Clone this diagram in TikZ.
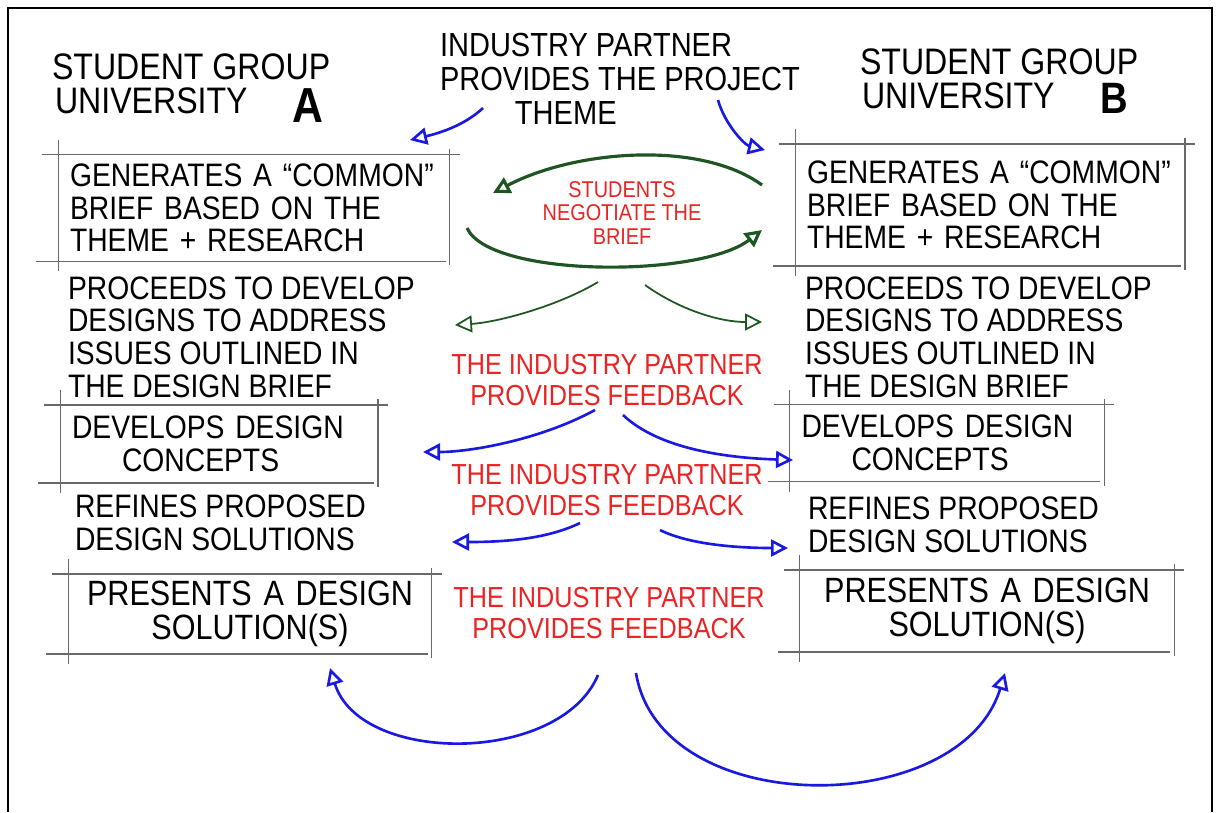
\documentclass[tikz,border=0pt]{standalone}
\usepackage{fontspec}
\newfontfamily\handfont[FakeStretch=0.87]{Liberation Sans}
\usetikzlibrary{arrows.meta, calc}

\definecolor{penblue}{RGB}{25,25,225}
\definecolor{pengreen}{RGB}{30,85,35}
\definecolor{penred}{RGB}{235,35,35}
\definecolor{boxgray}{RGB}{105,105,105}

% hand drawn box: four lines that run past the corners
\newcommand\sketchbox[1]{%
  \draw [sline] ($(#1.north west)+(-16,0)$) -- ($(#1.north east)+(10,0)$);
  \draw [sline] ($(#1.south west)+(-22,0)$) -- ($(#1.south east)+(-4,0)$);
  \draw [sline] ($(#1.north west)+(0,-15)$) -- ($(#1.south west)+(0,10)$);
  \draw [sline] ($(#1.north east)+(0,-6)$) -- ($(#1.south east)+(0,4)$);
}

\begin{document}
\begin{tikzpicture}[x=0.02cm, y=-0.02cm]
\tikzset{ >={Triangle[open, length=0.34cm, width=0.34cm]}, inner sep=0pt, outer sep=0pt,
  hand/.style={font=\handfont\fontsize{18.5}{18.6}\selectfont, align=left},
  title/.style={font=\handfont\fontsize{21}{20}\selectfont, align=left},
  big/.style={font=\handfont\fontsize{28}{28}\selectfont\bfseries},
  note/.style={font=\handfont\fontsize{16.5}{17.2}\selectfont, text=penred, align=center},
  sbox/.style={hand, inner xsep=0.24cm},
  sline/.style={boxgray, line width=0.6pt},
  bluepen/.style={penblue, line width=1.5pt},
  greenpen/.style={pengreen, line width=1pt},
}

\useasboundingbox (0,0) rectangle (1219,812);
\draw [line width=1.6pt] (8,812) -- (8,8) -- (1212,8) -- (1212,812);

%% headings
\node [title, anchor=west] (stA1) at (52,67) {STUDENT GROUP};
\node [title, anchor=west] (stA2) at (55,101) {UNIVERSITY};
\node [big] (letA) at (308,106) {A};
\node [title, anchor=west] (stB1) at (860,62) {STUDENT GROUP};
\node [title, anchor=west] (stB2) at (862,96) {UNIVERSITY};
\node [big, font=\handfont\fontsize{25}{25}\selectfont\bfseries] (letB) at (1114,98) {B};
\node [title, font=\handfont\fontsize{19}{19.5}\selectfont, anchor=north west] (ip) at (440,33)
  {INDUSTRY PARTNER\\PROVIDES THE PROJECT\\\hspace*{1.5cm}THEME};

%% group A
\node [sbox, text width=7.36cm, minimum height=2.14cm] (genA) at (254,208)
  {GENERATES A “COMMON”\\BRIEF BASED ON THE\\THEME + RESEARCH};
\node [hand, anchor=west] (devA) at (68,337)
  {PROCEEDS TO DEVELOP\\DESIGNS TO ADDRESS\\ISSUES OUTLINED IN\\THE DESIGN BRIEF};
\node [sbox, text width=5.88cm, minimum height=1.56cm] (conA) at (219,444)
  {DEVELOPS DESIGN\\\hspace*{1cm}CONCEPTS};
\node [hand, anchor=west] (refA) at (75,523) {REFINES PROPOSED\\DESIGN SOLUTIONS};
\node [sbox, text width=6.8cm, minimum height=1.6cm, align=center,
  font=\handfont\fontsize{20}{19}\selectfont] (solA) at (250,614)
  {PRESENTS A DESIGN\\SOLUTION(S)};

%% group B
\node [sbox, text width=7.32cm, minimum height=2.44cm] (genB) at (990,205)
  {GENERATES A “COMMON”\\BRIEF BASED ON THE\\THEME + RESEARCH};
\node [hand, anchor=west] (devB) at (805,337)
  {PROCEEDS TO DEVELOP\\DESIGNS TO ADDRESS\\ISSUES OUTLINED IN\\THE DESIGN BRIEF};
\node [sbox, text width=5.82cm, minimum height=1.54cm] (conB) at (947,443)
  {DEVELOPS DESIGN\\\hspace*{1cm}CONCEPTS};
\node [hand, anchor=west] (refB) at (808,525) {REFINES PROPOSED\\DESIGN SOLUTIONS};
\node [sbox, text width=7.02cm, minimum height=1.64cm, align=center,
  font=\handfont\fontsize{20}{19}\selectfont] (solB) at (987,611)
  {PRESENTS A DESIGN\\SOLUTION(S)};

\sketchbox{genA} \sketchbox{conA} \sketchbox{solA}
\sketchbox{genB} \sketchbox{conB} \sketchbox{solB}

%% middle notes
\node [note, font=\handfont\fontsize{13}{13.6}\selectfont] (neg) at (622,213)
  {STUDENTS\\NEGOTIATE THE\\BRIEF};
\node [note] (fbA) at (607,380) {THE INDUSTRY PARTNER\\PROVIDES FEEDBACK};
\node [note] (fbB) at (607,490) {THE INDUSTRY PARTNER\\PROVIDES FEEDBACK};
\node [note] (fbC) at (609,613) {THE INDUSTRY PARTNER\\PROVIDES FEEDBACK};

%% arrow ends
\coordinate (themeL) at (483,108);  \coordinate (inA)  at (410,140);
\coordinate (themeR) at (718,100);  \coordinate (inB)  at (765,150);
\coordinate (negR1)  at (762,185);  \coordinate (negL1) at (493,193);
\coordinate (negL2)  at (467,228);  \coordinate (negR2) at (762,230);
\coordinate (negBL)  at (598,282);  \coordinate (devAin) at (455,325);
\coordinate (negBR)  at (645,285);  \coordinate (devBin) at (762,322);
\coordinate (fbAL)   at (595,410);  \coordinate (conAin) at (423,452);
\coordinate (fbAR)   at (623,415);  \coordinate (conBin) at (793,460);
\coordinate (fbBL)   at (580,523);  \coordinate (refAin) at (452,542);
\coordinate (fbBR)   at (660,530);  \coordinate (refBin) at (788,548);
\coordinate (fbCL)   at (598,675);  \coordinate (solAin) at (330,668);
\coordinate (fbCR)   at (636,673);  \coordinate (solBin) at (1005,673);

\draw [bluepen, ->] (themeL) .. controls (465,125) and (440,133) .. (inA);
\draw [bluepen, ->] (themeR) .. controls (725,125) and (745,145) .. (inB);

\draw [greenpen, line width=1.8pt, ->] (negR1) .. controls (700,140) and (575,150) .. (negL1);
\draw [greenpen, line width=1.8pt, ->] (negL2) .. controls (490,278) and (700,278) .. (negR2);
\draw [greenpen, ->] (negBL) .. controls (560,305) and (500,322) .. (devAin);
\draw [greenpen, ->] (negBR) .. controls (680,310) and (720,322) .. (devBin);

\draw [bluepen, ->] (fbAL) .. controls (540,440) and (470,452) .. (conAin);
\draw [bluepen, ->] (fbAR) .. controls (660,450) and (730,458) .. (conBin);
\draw [bluepen, ->] (fbBL) .. controls (545,540) and (500,542) .. (refAin);
\draw [bluepen, ->] (fbBR) .. controls (690,545) and (740,548) .. (refBin);
\draw [bluepen, ->] (fbCL) .. controls (560,765) and (360,765) .. (solAin);
\draw [bluepen, ->] (fbCR) .. controls (660,820) and (960,820) .. (solBin);
\end{tikzpicture}
\end{document}
